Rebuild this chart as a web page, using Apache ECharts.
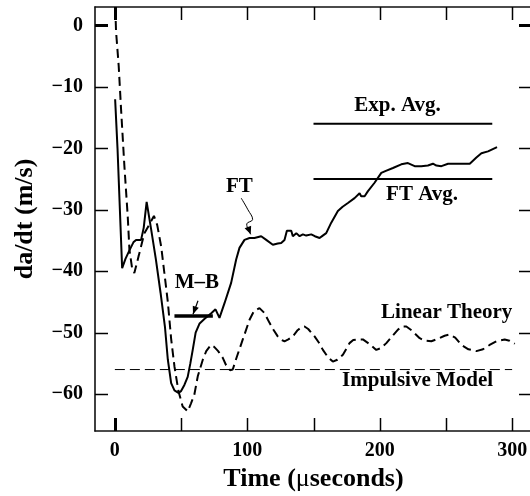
<!DOCTYPE html>
<html>
<head>
<meta charset="utf-8">
<script src="https://cdn.jsdelivr.net/npm/echarts@6/dist/echarts.min.js"></script>
<style>
html,body{margin:0;padding:0;background:#fff;}
#c{width:530px;height:496px;}
</style>
</head>
<body>
<div id="c"></div>
<script>
// ---- data ----
const xTicks = [0, 50, 100, 150, 200, 250, 300];
const xLabels = [0, 100, 200, 300];
const yTicks = [0, -10, -20, -30, -40, -50, -60];

// FT (solid)
const ftSeries = [
[0.2,-12],[2,-20],[5.5,-39.5],[8,-38],[11,-36.6],[14,-35.3],[16,-34.9],[19.8,-34.9],[21.8,-32.9],[24,-28.7],
[27.4,-33.2],[31,-38.1],[34.5,-43.5],[37.8,-49],[40,-54.4],[42.5,-58.2],[45,-59.4],[48,-59.8],[50,-59.5],
[52.5,-58.5],[55,-57.2],[57,-55],[58.8,-52.8],[61,-50],[64,-48.5],[68,-47.7],[71.4,-47.1],[73,-46.8],
[76,-46.2],[79,-47.6],[82.8,-45.2],[87.8,-41.9],[91.6,-38.1],[94.1,-36.2],[97.9,-34.9],[101.7,-34.6],
[105.4,-34.6],[110.5,-34.3],[114.3,-34.9],[119.3,-35.7],[123,-35.5],[125.6,-35.4],[128.1,-34.9],
[129.9,-33.4],[133.2,-33.4],[134.4,-34.3],[137,-33.8],[139.5,-34.3],[142,-34],[144.5,-34.2],[148.3,-34],
[151,-34.3],[154.6,-34.6],[157,-34.2],[159.6,-33.8],[163.4,-32.1],[168.4,-30.2],[172,-29.5],[176,-28.9],
[181,-28.1],[184.8,-27.3],[186,-27.8],[188.6,-27.8],[191,-27],[196.1,-25.6],[201.2,-24],[204.2,-23.7],
[210,-23.2],[216.3,-22.6],[221.3,-22.4],[226.4,-22.9],[231.4,-22.9],[236.4,-22.8],[240.2,-22.5],
[242.8,-22.8],[246.6,-22.9],[251.6,-22.5],[259.1,-22.5],[268,-22.5],[273,-21.5],[276.8,-20.8],
[281.8,-20.5],[288.6,-19.8]
];

// Linear Theory (dashed)
const linearTheory = [
[0.3,3],[0.9,-1],[2.9,-6.6],[4.7,-13.7],[7.2,-22.9],[9.7,-31],[11,-36.5],[13,-39.5],[14.7,-40.3],
[18,-37.5],[22.3,-33.8],[26,-32.4],[29.5,-31],[32,-32.5],[35,-36],[37.5,-40.5],[40,-45],[42.5,-51],
[45,-55.5],[48,-59.5],[51.2,-62],[55,-62.8],[57.5,-61.5],[60,-60.1],[62.6,-57.1],[66.4,-54.4],[69,-53],
[72.5,-52],[75,-52.3],[78,-53],[81.5,-54.1],[84,-55.3],[87,-56.1],[89,-56],[92,-54],[96.6,-51.1],
[101.7,-47.9],[105,-46.5],[109.2,-46],[113,-46.8],[116.8,-48.4],[120,-49.6],[123,-50.6],[126,-51.2],
[128.1,-51.4],[131,-51.1],[134.4,-50.6],[138,-49.6],[141,-49.1],[143.2,-49],[146,-49.4],[148,-49.9],
[150.8,-50.6],[154,-51.6],[157.1,-52.8],[161,-54],[164.6,-54.7],[168,-54.4],[172.2,-53.6],[177.2,-51.7],
[180,-51.2],[184,-51.1],[187.3,-51.1],[192,-51.8],[197.4,-52.8],[201,-52.5],[205,-51.7],[209,-50.7],
[213.8,-49.5],[217,-49],[220.1,-49],[224,-49.6],[230.2,-50.9],[234,-51.3],[239,-51.4],[244,-51],
[249,-50.5],[252.8,-50.3],[257,-50.8],[261.7,-52],[267,-52.7],[273,-53],[278,-52.7],[283,-52],
[288,-51.4],[294.4,-51.1],[298,-51.3],[302,-51.8]
];

const expAvg = -16;
const ftAvg = -25;
const avgSpan = [150, 285];
const mbValue = -47.3;
const mbSpan = [45, 74];
const impulsiveModel = -56;
const impulsiveSpan = [0, 300];

// ---- chart ----
const FONT = 'Liberation Serif';
const chart = echarts.init(document.getElementById('c'), null, {renderer: 'canvas'});

const axisLineStyle = {show: true, onZero: false, lineStyle: {color: '#111', width: 1.6}};
const labelStyle = {color: '#000', fontFamily: FONT, fontWeight: 'bold', fontSize: 20};

const option = {
  animation: false,
  backgroundColor: '#fff',
  grid: {left: 95, top: 7, width: 437, height: 424, containLabel: false, outerBoundsMode: 'none'},
  xAxis: [
    {type: 'value', position: 'bottom', min: -15, max: 315,
     axisLine: axisLineStyle, axisTick: {show: false},
     axisLabel: Object.assign({customValues: xLabels, margin: 10}, labelStyle),
     splitLine: {show: false},
     name: '{b|Time (}{m|\u03bc}{b|seconds)}',
     nameLocation: 'middle', nameGap: 32,
     nameTextStyle: {rich: {
       b: {fontFamily: FONT, fontWeight: 'bold', fontSize: 26, color: '#000'},
       m: {fontFamily: FONT, fontWeight: 'normal', fontSize: 26, color: '#000'}
     }}
    },
    {type: 'value', position: 'top', min: -15, max: 315,
     axisLine: axisLineStyle, axisTick: {show: false},
     axisLabel: {show: false}, splitLine: {show: false}}
  ],
  yAxis: [
    {type: 'value', position: 'left', min: -66, max: 3,
     axisLine: axisLineStyle, axisTick: {show: false},
     axisLabel: Object.assign({customValues: yTicks, margin: 12,
       formatter: v => String(v).replace('-', '\u2212')}, labelStyle),
     splitLine: {show: false},
     name: 'da/dt (m/s)', nameLocation: 'middle', nameGap: 57, nameRotate: 90,
     nameTextStyle: {fontFamily: FONT, fontWeight: 'bold', fontSize: 26, color: '#000'}
    },
    {type: 'value', position: 'right', min: -66, max: 3,
     axisLine: axisLineStyle, axisTick: {show: false},
     axisLabel: {show: false}, splitLine: {show: false}}
  ],
  series: [
    {type: 'line', name: 'FT', data: ftSeries, showSymbol: false, symbol: 'none',
     lineStyle: {color: '#000', width: 2}, z: 5},
    {type: 'line', name: 'Linear Theory', data: linearTheory, showSymbol: false, symbol: 'none',
     lineStyle: {color: '#000', width: 2, type: [9, 5]}, z: 4},
    {type: 'line', name: 'Exp. Avg.', data: avgSpan.map(t => [t, expAvg]), symbol: 'none',
     lineStyle: {color: '#000', width: 2}},
    {type: 'line', name: 'FT Avg.', data: avgSpan.map(t => [t, ftAvg]), symbol: 'none',
     lineStyle: {color: '#000', width: 2}},
    {type: 'line', name: 'M-B', data: mbSpan.map(t => [t, mbValue]), symbol: 'none',
     lineStyle: {color: '#000', width: 3.5}},
    {type: 'line', name: 'Impulsive Model', data: impulsiveSpan.map(t => [t, impulsiveModel]), symbol: 'none',
     lineStyle: {color: '#000', width: 1, type: [10, 5]}}
  ]
};
chart.setOption(option);

// ---- frame ticks and annotations (anchored through the chart's scales) ----
function px(p) { return chart.convertToPixel({gridIndex: 0}, p); }
const gridRect = chart.getModel().getComponent('grid', 0).coordinateSystem.getRect();
const TL = 13;
const tickGraphics = [];
function seg(x1, y1, x2, y2, w) {
  tickGraphics.push({type: 'line', z: 20, silent: true,
    shape: {x1: x1, y1: y1, x2: x2, y2: y2},
    style: {stroke: '#000', lineWidth: w}});
}
const gTop = gridRect.y, gBot = gridRect.y + gridRect.height, gL = gridRect.x, gR = gridRect.x + gridRect.width;
xTicks.forEach(function (t) {
  const x = Math.round(px([t, 0])[0]) + 0.5;
  const w = t === 0 ? 3 : 1.5;
  seg(x, gBot, x, gBot - TL, w);
  seg(x, gTop, x, gTop + TL, w);
});
yTicks.forEach(function (v) {
  const y = Math.round(px([0, v])[1]) + 0.5;
  const w = v === 0 ? 3 : 1.5;
  seg(gL, y, gL + TL, y, w);
  seg(gR, y, gR - TL, y, w);
});

function txt(str, at) {
  const p = px(at);
  return {type: 'text', x: p[0], y: p[1], z: 10,
    style: {text: str, fill: '#000', font: 'bold 21px "' + FONT + '"', align: 'center', verticalAlign: 'middle'}};
}
function arrowHead(from, to, len, half) {
  const a = px(from), b = px(to);
  const dx = b[0] - a[0], dy = b[1] - a[1];
  const d = Math.hypot(dx, dy) || 1;
  const ux = dx / d, uy = dy / d;
  const bx = b[0] - ux * len, by = b[1] - uy * len;
  return {type: 'polygon', z: 10,
    shape: {points: [[b[0], b[1]], [bx - uy * half, by + ux * half], [bx + uy * half, by - ux * half]]},
    style: {fill: '#000'}};
}
const ftArrowPath = [[95.4, -28.1], [100.5, -30.0], [104.0, -31.6], [99.6, -32.3], [102.6, -34.0]];
const mbArrowPath = [[62.8, -44.8], [59.0, -47.0]];

const graphics = tickGraphics.concat([
  txt('Exp. Avg.', [213.5, -13]),
  txt('FT Avg.', [232, -27.6]),
  txt('FT', [94, -26.3]),
  txt('M\u2013B', [62, -41.9]),
  txt('Linear Theory', [250.6, -46.7]),
  txt('Impulsive Model', [228.6, -57.8]),
  {type: 'polyline', z: 10, shape: {points: ftArrowPath.map(px), smooth: 0.4},
   style: {stroke: '#000', lineWidth: 1, fill: null}},
  arrowHead(ftArrowPath[3], ftArrowPath[4], 8, 3.5),
  {type: 'polyline', z: 10, shape: {points: mbArrowPath.map(px)},
   style: {stroke: '#000', lineWidth: 1.2, fill: null}},
  arrowHead(mbArrowPath[0], mbArrowPath[1], 8, 3.2)
]);
chart.setOption({graphic: graphics});
</script>
</body>
</html>
